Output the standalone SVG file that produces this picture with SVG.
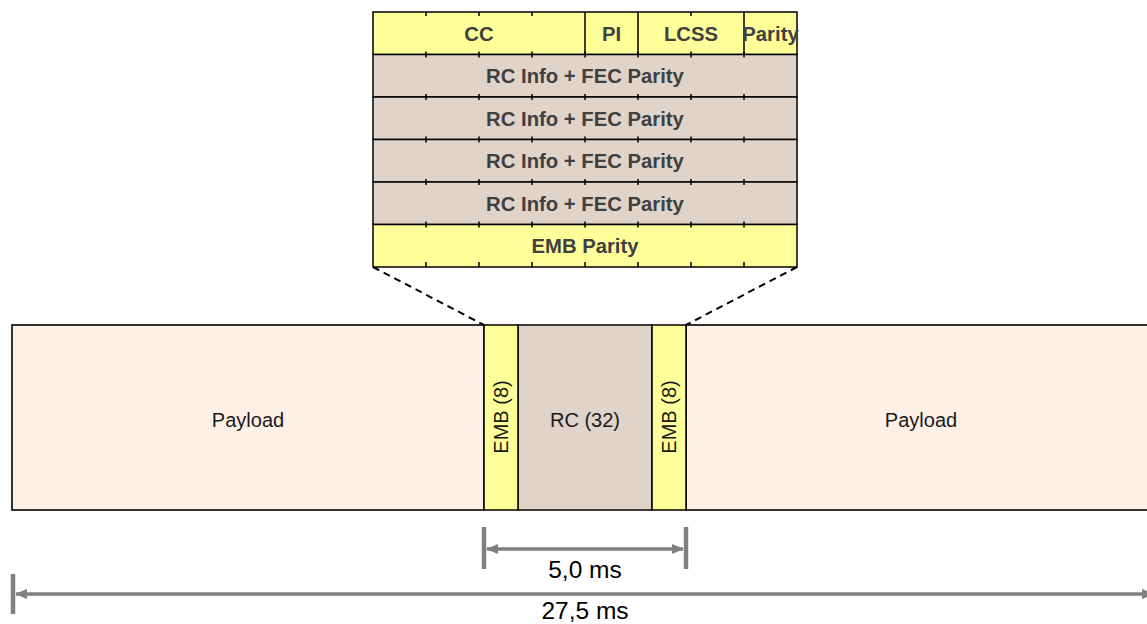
<svg xmlns="http://www.w3.org/2000/svg" width="1147" height="624" viewBox="0 0 1147 624">
<style>
.yel{fill:#FFFF99;stroke:#000;stroke-width:1.5}
.tan{fill:#E0D4CA;stroke:#000;stroke-width:1.5}
.pay{fill:#FDF0E6;stroke:#000;stroke-width:1.6}
.tb{font-family:"Liberation Sans",Arial,sans-serif;font-weight:bold;font-size:20.3px;fill:#404040;text-anchor:middle}
.lb{font-family:"Liberation Sans",Arial,sans-serif;font-size:20px;fill:#1a1a1a;text-anchor:middle}
.dl{font-family:"Liberation Sans",Arial,sans-serif;font-size:24.5px;fill:#000;text-anchor:middle}
.tick{stroke:#000;stroke-width:1.5}
.dash{stroke:#000;stroke-width:2;stroke-dasharray:7,5;fill:none}
.dim{stroke:#808080;stroke-width:3.5;fill:none}
.bar{stroke:#808080;stroke-width:4.5}
</style>
<defs>
<marker id="ah" markerUnits="userSpaceOnUse" markerWidth="12" markerHeight="10" refX="11" refY="5" orient="auto-start-reverse">
<path d="M0,0 L12,5 L0,10 z" fill="#808080"/>
</marker>
</defs>
<g id="table">
<rect class="yel" x="373" y="12" width="424" height="42.5"/>
<rect class="tan" x="373" y="54.5" width="424" height="42.5"/>
<rect class="tan" x="373" y="97" width="424" height="42.5"/>
<rect class="tan" x="373" y="139.5" width="424" height="42.5"/>
<rect class="tan" x="373" y="182" width="424" height="42.5"/>
<rect class="yel" x="373" y="224.5" width="424" height="42.5"/>
<path class="tick" d="M585,12V54.5M638,12V54.5M744,12V54.5"/>
<path class="tick" d="M426,12v4M479,12v4M532,12v4M691,12v4
M426,51.5v6M479,51.5v6M532,51.5v6M585,51.5v6M638,51.5v6M691,51.5v6M744,51.5v6
M426,94v6M479,94v6M532,94v6M585,94v6M638,94v6M691,94v6M744,94v6
M426,136.5v6M479,136.5v6M532,136.5v6M585,136.5v6M638,136.5v6M691,136.5v6M744,136.5v6
M426,179v6M479,179v6M532,179v6M585,179v6M638,179v6M691,179v6M744,179v6
M426,221.5v6M479,221.5v6M532,221.5v6M585,221.5v6M638,221.5v6M691,221.5v6M744,221.5v6
M426,262v5M479,262v5M532,262v5M585,262v5M638,262v5M691,262v5M744,262v5"/>
<text class="tb" x="479" y="40.5">CC</text>
<text class="tb" x="611.5" y="40.5">PI</text>
<text class="tb" x="691" y="40.5">LCSS</text>
<text class="tb" x="770.5" y="40.5">Parity</text>
<text class="tb" x="585" y="83">RC Info + FEC Parity</text>
<text class="tb" x="585" y="125.5">RC Info + FEC Parity</text>
<text class="tb" x="585" y="168">RC Info + FEC Parity</text>
<text class="tb" x="585" y="210.5">RC Info + FEC Parity</text>
<text class="tb" x="585" y="253">EMB Parity</text>
</g>
<g id="connectors">
<line class="dash" x1="373" y1="267" x2="484" y2="325"/>
<line class="dash" x1="797" y1="267" x2="686" y2="325"/>
</g>
<g id="payload-left">
<rect class="pay" x="12" y="325" width="472" height="185"/>
<text class="lb" x="248" y="427">Payload</text>
</g>
<g id="payload-right">
<rect class="pay" x="686" y="325" width="470" height="185"/>
<text class="lb" x="921" y="427">Payload</text>
</g>
<g id="rc">
<rect class="tan" x="518" y="325" width="134" height="185"/>
<text class="lb" x="585" y="427">RC (32)</text>
</g>
<g id="emb-left">
<rect class="yel" x="484" y="325" width="34" height="185"/>
<text class="lb" transform="translate(501,417) rotate(-90)" x="0" y="7">EMB (8)</text>
</g>
<g id="emb-right">
<rect class="yel" x="652" y="325" width="34" height="185"/>
<text class="lb" transform="translate(669,417) rotate(-90)" x="0" y="7">EMB (8)</text>
</g>
<g id="dim-5ms">
<line class="bar" x1="484" y1="527" x2="484" y2="569"/>
<line class="bar" x1="686" y1="527" x2="686" y2="569"/>
<line class="dim" x1="487" y1="549" x2="683" y2="549" marker-start="url(#ah)" marker-end="url(#ah)"/>
<text class="dl" x="585" y="578">5,0 ms</text>
</g>
<g id="dim-27ms">
<line class="bar" x1="13" y1="574" x2="13" y2="614"/>
<line class="dim" x1="16" y1="594" x2="1153" y2="594" marker-start="url(#ah)" marker-end="url(#ah)"/>
<text class="dl" x="585" y="619">27,5 ms</text>
</g>
</svg>
